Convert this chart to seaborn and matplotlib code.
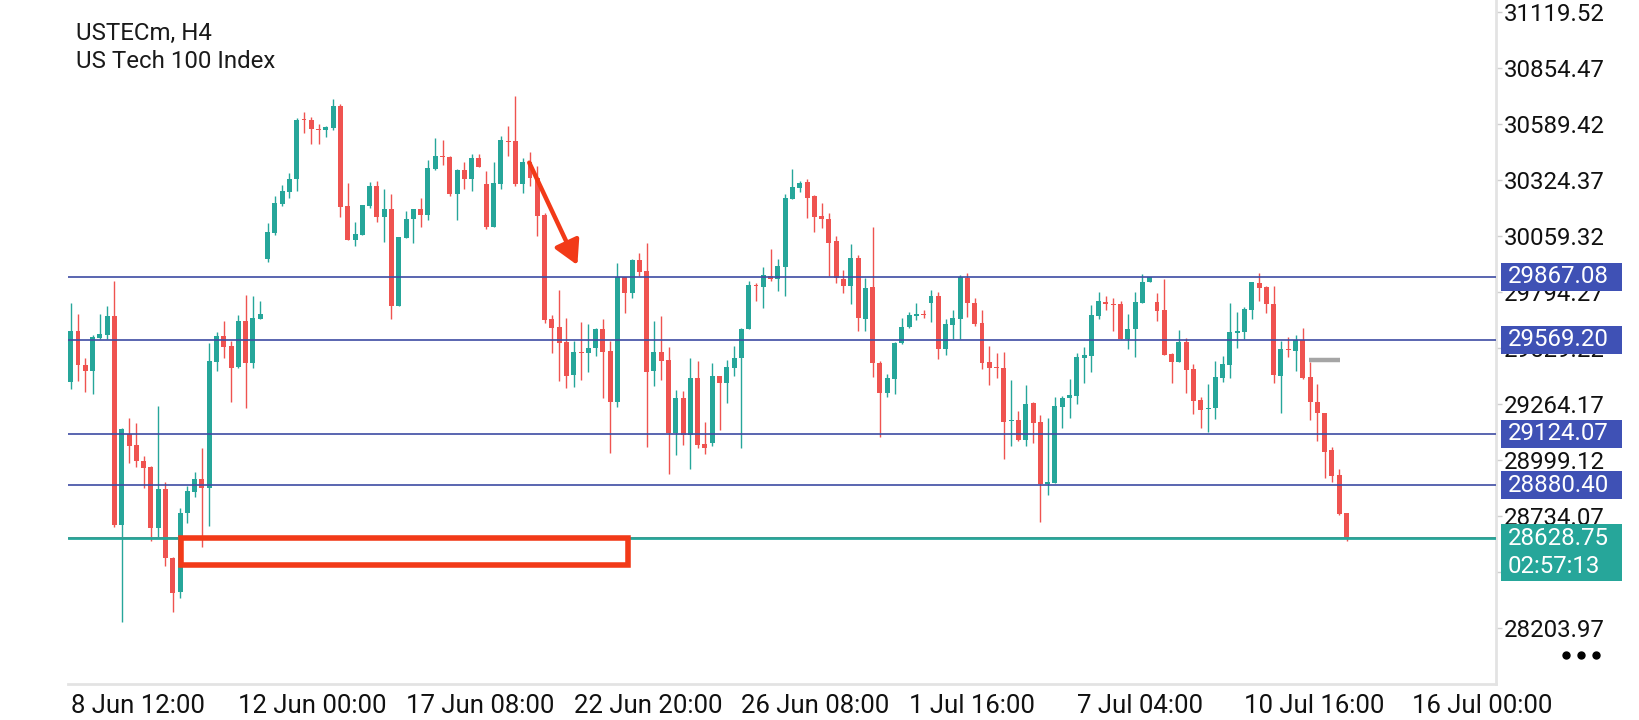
import numpy as np
import matplotlib
matplotlib.use("Agg")
import matplotlib.pyplot as plt
from matplotlib.patches import Rectangle
import seaborn as sns

symbol = "USTECm, H4"
description = "US Tech 100 Index"

# H4 candles (oldest first)
opens = [
    29370, 29610, 29449, 29422, 29575, 29591, 29681, 28691, 29122, 29070,
    28994, 28967, 28679, 28862, 28534, 28373, 28747, 28849, 28909, 28865,
    29465, 29586, 29539, 29441, 29659, 29457, 29668, 29951, 30072, 30211,
    30269, 30328, 30612, 30609, 30566, 30561, 30569, 30675, 30201, 30041,
    30064, 30201, 30296, 30151, 30187, 29730, 30052, 30138, 30187, 30159,
    30377, 30438, 30432, 30258, 30372, 30329, 30427, 30306, 30104, 30306,
    30509, 30509, 30306, 30408, 30332, 30159, 29665, 29627, 29556, 29401,
    29509, 29504, 29528, 29619, 29515, 29275, 29864, 29791, 29946, 29894,
    29422, 29509, 29472, 29125, 29291, 29117, 29386, 29075, 29078, 29397,
    29365, 29436, 29480, 29618, 29828, 29820, 29872, 29856, 29914, 30235,
    30288, 30314, 30249, 30154, 30140, 30036, 29856, 29824, 29954, 29667,
    29817, 29457, 29315, 29381, 29551, 29627, 29682, 29687, 29744, 29775,
    29523, 29638, 29667, 29859, 29744, 29646, 29461, 29439, 29436, 29182,
    29188, 29094, 29267, 29177, 28884, 28892, 29252, 29291, 29304, 29484,
    29493, 29682, 29749, 29738, 29738, 29570, 29618, 29744, 29840, 29749,
    29709, 29501, 29465, 29559, 29430, 29283, 29241, 29244, 29389, 29449,
    29602, 29607, 29709, 29839, 29820, 29738, 29398, 29526, 29517, 29567,
    29394, 29275, 29223, 29047, 28928, 28747,
]
highs = [
    29741, 29690, 29480, 29591, 29690, 29728, 29846, 29149, 29196, 29176,
    29018, 28971, 29255, 28897, 28540, 28770, 28876, 28941, 29057, 29551,
    29603, 29659, 29564, 29686, 29780, 29776, 29752, 30120, 30249, 30301,
    30356, 30617, 30645, 30621, 30588, 30580, 30708, 30683, 30309, 30124,
    30206, 30317, 30321, 30282, 30257, 30056, 30178, 30187, 30238, 30419,
    30522, 30514, 30438, 30375, 30408, 30448, 30448, 30369, 30411, 30533,
    30580, 30722, 30427, 30459, 30391, 30171, 29685, 29804, 29670, 29564,
    29651, 29643, 29625, 29665, 29562, 29933, 29864, 29951, 29977, 30025,
    29659, 29681, 29536, 29330, 29326, 29484, 29468, 29181, 29457, 29397,
    29473, 29539, 29622, 29847, 29839, 29911, 29998, 29951, 30257, 30377,
    30320, 30329, 30254, 30214, 30171, 30060, 29899, 30022, 29970, 29862,
    30104, 29468, 29406, 29556, 29670, 29698, 29741, 29709, 29804, 29796,
    29667, 29709, 29875, 29886, 29764, 29709, 29539, 29504, 29509, 29378,
    29231, 29354, 29272, 29212, 29196, 29299, 29302, 29383, 29504, 29536,
    29733, 29796, 29776, 29764, 29752, 29690, 29796, 29880, 29867, 29791,
    29856, 29507, 29615, 29575, 29454, 29296, 29359, 29468, 29491, 29744,
    29698, 29722, 29843, 29886, 29824, 29824, 29562, 29580, 29591, 29625,
    29465, 29359, 29223, 29062, 28957, 28747,
]
lows = [
    29334, 29373, 29323, 29310, 29570, 29570, 28683, 28234, 28986, 28967,
    28865, 28617, 28636, 28497, 28278, 28344, 28699, 28822, 28589, 28688,
    29422, 29484, 29275, 29433, 29247, 29433, 29668, 29938, 30064, 30203,
    30241, 30274, 30549, 30493, 30493, 30530, 30561, 30148, 30041, 30014,
    30064, 30190, 30127, 30033, 29665, 29730, 30052, 30028, 30104, 30135,
    30372, 30396, 30250, 30135, 30282, 30274, 30385, 30093, 30104, 30280,
    30438, 30296, 30261, 30296, 30061, 29649, 29507, 29375, 29338, 29346,
    29378, 29417, 29491, 29291, 29031, 29252, 29693, 29764, 29870, 29062,
    29351, 29378, 28931, 29023, 29070, 28955, 29054, 29026, 29067, 29141,
    29271, 29397, 29054, 29618, 29752, 29720, 29848, 29801, 29777, 30233,
    30266, 30146, 30080, 30099, 29870, 29835, 29791, 29736, 29611, 29611,
    29394, 29110, 29299, 29310, 29548, 29622, 29662, 29673, 29654, 29477,
    29496, 29570, 29570, 29678, 29633, 29428, 29354, 29389, 29004, 29067,
    29089, 29067, 29081, 28707, 28833, 28889, 29152, 29200, 29264, 29365,
    29417, 29667, 29709, 29611, 29570, 29523, 29485, 29744, 29840, 29659,
    29496, 29365, 29465, 29315, 29215, 29152, 29130, 29193, 29370, 29389,
    29528, 29572, 29665, 29753, 29697, 29362, 29223, 29488, 29422, 29383,
    29188, 29091, 28912, 28897, 28739, 28614,
]
closes = [
    29611, 29449, 29422, 29580, 29596, 29681, 28691, 29144, 29067, 28994,
    28963, 28679, 28862, 28534, 28368, 28747, 28852, 28909, 28865, 29468,
    29586, 29536, 29436, 29659, 29457, 29670, 29689, 30077, 30214, 30272,
    30329, 30609, 30607, 30568, 30563, 30576, 30675, 30198, 30041, 30069,
    30206, 30296, 30151, 30187, 29730, 30056, 30138, 30187, 30159, 30380,
    30438, 30433, 30258, 30372, 30329, 30427, 30388, 30104, 30309, 30514,
    30503, 30306, 30408, 30332, 30156, 29662, 29625, 29551, 29398, 29509,
    29504, 29528, 29619, 29512, 29275, 29864, 29791, 29946, 29891, 29417,
    29509, 29469, 29125, 29291, 29117, 29386, 29070, 29058, 29397, 29365,
    29441, 29480, 29619, 29828, 29821, 29875, 29856, 29918, 30238, 30290,
    30309, 30241, 30151, 30138, 30028, 29859, 29824, 29954, 29673, 29812,
    29457, 29315, 29386, 29551, 29627, 29685, 29690, 29684, 29775, 29523,
    29643, 29670, 29864, 29744, 29641, 29460, 29436, 29436, 29181, 29187,
    29094, 29264, 29176, 28886, 28893, 29255, 29294, 29307, 29488, 29496,
    29686, 29752, 29736, 29734, 29572, 29619, 29749, 29843, 29864, 29706,
    29496, 29465, 29559, 29425, 29280, 29236, 29245, 29394, 29454, 29607,
    29611, 29712, 29840, 29815, 29736, 29401, 29525, 29520, 29567, 29389,
    29272, 29220, 29039, 28925, 28742, 28628.75,
]

levels = [29867.08, 29569.20, 29124.07, 28880.40]
last_price = 28628.75
ask_price = 28633.0
countdown = "02:57:13"
marker_price = 29471.0
marker_span = [169.9, 174.1]

y_ticks = [31119.52, 30854.47, 30589.42, 30324.37, 30059.32, 29794.27,
           29529.22, 29264.17, 28999.12, 28734.07, 28469.02, 28203.97]
hidden_ticks = [28469.02]  # sits fully under the last-price box
x_tick_pos = [0, 23, 46, 69, 92, 115, 138, 161, 184]
x_tick_labels = ["8 Jun 12:00", "12 Jun 00:00", "17 Jun 08:00", "22 Jun 20:00",
                 "26 Jun 08:00", "1 Jul 16:00", "7 Jul 04:00", "10 Jul 16:00",
                 "16 Jul 00:00"]

# hand drawn objects on the chart
zone = [15.1, 76.5, 28503.0, 28628.0]      # x0, x1, low, high
arrow_from = (62.9, 30407.0)
arrow_to = (69.5, 29922.0)

UP = "#26a69a"
DOWN = "#ef5350"
LEVEL = "#3d4ca3"
BOX = "#3f51b5"
DRAW = "#f23a18"
BORDER = "#e3e3e3"

sns.set_theme(style="white")
plt.rcParams['font.family'] = ['Roboto', 'DejaVu Sans']

W, H = 1640, 720
fig = plt.figure(figsize=(W / 100, H / 100), dpi=100)
ax_l, ax_r, ax_b = 68, 1496, 684
ax = fig.add_axes([ax_l / W, 1 - ax_b / H, (ax_r - ax_l) / W, ax_b / H])

ymin, ymax = 27939, 31177
ax.set_xlim(-0.37, 195.5)
ax.set_ylim(ymin, ymax)
ppx = (ymax - ymin) / ax_b  # price per pixel

o = np.array(opens, dtype=float)
c = np.array(closes, dtype=float)
x = np.arange(len(o))
col = np.where(c >= o, UP, DOWN)

ax.vlines(x, lows, highs, colors=col, lw=1.0, zorder=2)
ax.bar(x, np.maximum(np.abs(c - o), ppx), bottom=np.minimum(o, c),
       width=0.68, color=col, linewidth=0, zorder=2)

for lv in levels:
    ax.axhline(lv, color=LEVEL, lw=1.2, zorder=3)
ax.axhline(ask_price, color=DOWN, lw=0.7, zorder=3)
ax.axhline(last_price, color=UP, lw=2.0, zorder=3)

ax.plot(marker_span, [marker_price, marker_price], color="#a5a5a5", lw=3.2,
        solid_capstyle="butt", zorder=4)

ax.add_patch(Rectangle((zone[0], zone[2]), zone[1] - zone[0], zone[3] - zone[2],
                       fill=False, ec=DRAW, lw=4.0, zorder=6))
ax.annotate("", xy=arrow_to, xytext=arrow_from,
            arrowprops=dict(arrowstyle="-|>,head_length=0.9,head_width=0.5",
                            color=DRAW, lw=3.2, mutation_scale=16,
                            shrinkA=0, shrinkB=0), zorder=6)

# axes look
for s in ["top", "left"]:
    ax.spines[s].set_visible(False)
for s in ["bottom", "right"]:
    ax.spines[s].set_color(BORDER)
    ax.spines[s].set_linewidth(2)

fs = 17.3
ax.yaxis.tick_right()
ax.set_yticks(y_ticks)
ax.set_yticklabels(["" if v in hidden_ticks else f"{v:.2f}" for v in y_ticks])
ax.set_xticks(x_tick_pos)
ax.set_xticklabels(x_tick_labels)
ax.tick_params(axis="y", length=4, width=1, color="#cfcfcf", pad=2,
               labelsize=fs, labelcolor="#111111")
ax.tick_params(axis="x", length=4, width=1.5, color=BORDER, pad=3,
               labelsize=18.5, labelcolor="#111111")
for lbl in ax.get_xticklabels():
    lbl.set_horizontalalignment("left")

# price labels on the right scale
tr = ax.get_yaxis_transform()
bx0 = (1501 - ax_l) / (ax_r - ax_l)
bw = 121 / (ax_r - ax_l)
tx = (1508 - ax_l) / (ax_r - ax_l)
for lv in levels:
    ax.add_patch(Rectangle((bx0, lv - 13.9 * ppx), bw, 27.8 * ppx, transform=tr,
                           fc=BOX, ec="none", clip_on=False, zorder=8))
    ax.text(tx, lv, f"{lv:.2f}", transform=tr, color="white", fontsize=fs,
            va="center", ha="left", clip_on=False, zorder=9)
ax.add_patch(Rectangle((bx0, last_price - 43 * ppx), bw, 57 * ppx, transform=tr,
                       fc=UP, ec="none", clip_on=False, zorder=8))
ax.text(tx, last_price, f"{last_price:.2f}", transform=tr, color="white",
        fontsize=fs, va="center", ha="left", clip_on=False, zorder=9)
ax.text(tx, last_price - 28.5 * ppx, countdown, transform=tr, color="white",
        fontsize=fs, va="center", ha="left", clip_on=False, zorder=9)

fig.text(76 / W, 1 - 33 / H, symbol, fontsize=fs, color="#1a1a1a", va="center")
fig.text(76 / W, 1 - 62 / H, description, fontsize=fs, color="#1a1a1a", va="center")
fig.lines.append(plt.Line2D([1566 / W, 1581 / W, 1596 / W], [1 - 655 / H] * 3,
                            transform=fig.transFigure, ls="none", marker="o",
                            ms=5, color="black"))

fig.savefig("out.png", dpi=100)
